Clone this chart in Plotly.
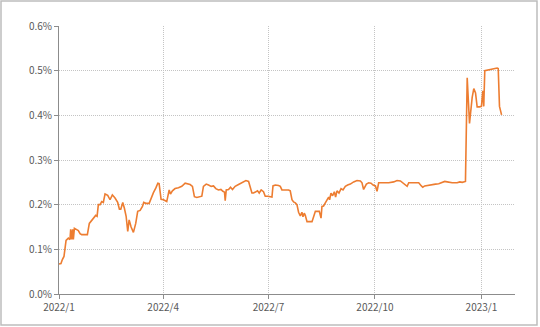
import pandas as pd
import plotly.graph_objects as go

# Days elapsed since 2022-01-01 and 10-year yield (%)
day_offsets = [
    0, 1.7, 2.9, 4.3, 6.1, 8.1, 9.5, 10.1, 11, 11.8, 12.4, 13.3, 15.3, 16.7, 18.2, 19.6,
    22.5, 24.5, 26.2, 28.3, 30.6, 31.7, 32.9, 34, 35.5, 36.9, 38.3, 39.8, 42.1, 44.1,
    46.1, 48.4, 50.7, 52.2, 53.4, 55.1, 56.5, 58, 59.4, 60.6, 62.3, 64.3, 66.3, 68,
    70.1, 72.1, 73.2, 75, 77.9, 79.6, 81.6, 83.6, 85.4, 86.5, 88.2, 90.3, 93.1, 95.2,
    96.3, 98, 100.3, 103.2, 106.1, 109, 111, 113.3, 115.3, 117, 119.1, 121.1, 123.4,
    124.8, 127.2, 129.2, 131.5, 133.5, 135.5, 137.8, 139.9, 141.6, 143, 143.6, 144.5,
    146.5, 148.2, 149.9, 152.2, 155.1, 158.6, 161.5, 163.8, 165.2, 166.7, 168.1, 169.6,
    171.5, 173, 174.7, 176.7, 178.2, 180.5, 182.5, 184, 184.9, 186.9, 189.7, 191.2,
    192.6, 195.5, 198.4, 199.8, 201.3, 202.7, 204.2, 205.6, 207, 208.5, 209.9, 210.8,
    211.9, 212.8, 214.3, 216.5, 218.6, 220, 221.5, 224.9, 226.4, 227.2, 228.6, 230.1,
    231.6, 233, 233.8, 235, 236.4, 237.9, 239, 240.2, 241.9, 243.7, 245.4, 247.4,
    249.4, 251.7, 254.6, 257.5, 260.4, 261.8, 263.2, 265.6, 267.6, 269.6, 271.4,
    273.4, 274.8, 276.2, 280.5, 284.9, 289.2, 292.1, 295, 297, 298.7, 300.8, 302.2,
    306.5, 310.8, 313.1, 314.3, 316, 319.5, 322.4, 325.3, 328.1, 331.1, 333.3, 335.4,
    339.7, 344, 346.3, 348.4, 349.7, 351.2, 352.7, 354.7, 357, 358.4, 359.9, 361.3,
    363.3, 365, 366.2, 367, 367.9, 369.9, 372.8, 375.7, 378.6, 379.5, 380.6, 382.4,
]
yield_pct = [
    0.067, 0.068, 0.077, 0.084, 0.120, 0.125, 0.122, 0.145, 0.122, 0.145, 0.122, 0.147,
    0.144, 0.142, 0.135, 0.133, 0.133, 0.133, 0.158, 0.165, 0.172, 0.176, 0.174, 0.200,
    0.200, 0.207, 0.205, 0.224, 0.221, 0.211, 0.222, 0.215, 0.205, 0.190, 0.190, 0.205,
    0.192, 0.174, 0.140, 0.166, 0.150, 0.138, 0.158, 0.185, 0.187, 0.196, 0.205, 0.203,
    0.203, 0.215, 0.227, 0.237, 0.248, 0.247, 0.212, 0.211, 0.207, 0.233, 0.224, 0.231,
    0.236, 0.238, 0.241, 0.248, 0.246, 0.245, 0.241, 0.218, 0.216, 0.218, 0.219, 0.241,
    0.246, 0.244, 0.241, 0.242, 0.236, 0.233, 0.234, 0.230, 0.228, 0.209, 0.233, 0.234,
    0.239, 0.234, 0.241, 0.245, 0.250, 0.254, 0.252, 0.241, 0.226, 0.226, 0.229, 0.231,
    0.226, 0.233, 0.229, 0.219, 0.219, 0.217, 0.217, 0.242, 0.244, 0.243, 0.241, 0.233,
    0.233, 0.233, 0.231, 0.211, 0.206, 0.204, 0.200, 0.183, 0.175, 0.183, 0.173, 0.181,
    0.176, 0.162, 0.162, 0.162, 0.173, 0.185, 0.185, 0.170, 0.196, 0.197, 0.204, 0.211,
    0.217, 0.211, 0.226, 0.220, 0.229, 0.217, 0.231, 0.226, 0.236, 0.233, 0.241, 0.244,
    0.246, 0.251, 0.254, 0.253, 0.249, 0.234, 0.246, 0.249, 0.248, 0.244, 0.242, 0.230,
    0.249, 0.249, 0.249, 0.251, 0.254, 0.253, 0.249, 0.244, 0.241, 0.249, 0.249, 0.249,
    0.242, 0.239, 0.242, 0.244, 0.245, 0.246, 0.247, 0.249, 0.252, 0.251, 0.249, 0.249,
    0.251, 0.250, 0.251, 0.252, 0.484, 0.382, 0.440, 0.460, 0.450, 0.419, 0.419, 0.420,
    0.455, 0.420, 0.500, 0.501, 0.503, 0.505, 0.506, 0.505, 0.420, 0.401,
]

tick_dates = ["2022-01-01", "2022-04-01", "2022-07-01", "2022-10-01", "2023-01-01"]
tick_labels = ["2022/1", "2022/4", "2022/7", "2022/10", "2023/1"]
y_ticks = [0.0, 0.1, 0.2, 0.3, 0.4, 0.5, 0.6]
y_labels = ["0.0%", "0.1%", "0.2%", "0.3%", "0.4%", "0.5%", "0.6%"]

dates = pd.Timestamp("2022-01-01") + pd.to_timedelta(day_offsets, unit="D")

fig = go.Figure(
    go.Scatter(
        x=dates,
        y=yield_pct,
        mode="lines",
        line=dict(color="#ED7D31", width=1.6),
        hoverinfo="skip",
    )
)

font_family = "Noto Sans CJK JP, DejaVu Sans, sans-serif"
grid_col = "#c4c4c4"

fig.update_layout(
    width=540,
    height=327,
    margin=dict(l=59, r=25, t=26, b=33),
    paper_bgcolor="white",
    plot_bgcolor="white",
    showlegend=False,
    font=dict(family=font_family, size=10, color="#595959"),
    xaxis=dict(
        range=["2022-01-01", "2023-01-30"],
        tickmode="array",
        tickvals=tick_dates,
        ticktext=tick_labels,
        showgrid=True,
        gridcolor=grid_col,
        griddash="1px,1px",
        gridwidth=1,
        showline=True,
        linecolor="#8c8c8c",
        linewidth=1,
        ticks="outside",
        ticklen=4,
        tickcolor="#8c8c8c",
        tickfont=dict(size=10, color="#595959"),
        zeroline=False,
    ),
    yaxis=dict(
        range=[0, 0.6],
        tickmode="array",
        tickvals=y_ticks,
        ticktext=y_labels,
        showgrid=True,
        gridcolor=grid_col,
        griddash="1px,1px",
        gridwidth=1,
        showline=True,
        linecolor="#8c8c8c",
        linewidth=1,
        ticks="outside",
        ticklen=4,
        tickcolor="#8c8c8c",
        tickfont=dict(size=10, color="#595959"),
        zeroline=False,
    ),
    shapes=[
        dict(
            type="rect",
            xref="paper",
            yref="paper",
            x0=(1 - 59) / 456,
            x1=(537 - 59) / 456,
            y0=(294 - 325) / 268,
            y1=(294 - 1) / 268,
            line=dict(color="#bdbdbd", width=1.5),
            fillcolor="rgba(0,0,0,0)",
            layer="below",
        )
    ],
)

fig.write_html("out.html")
